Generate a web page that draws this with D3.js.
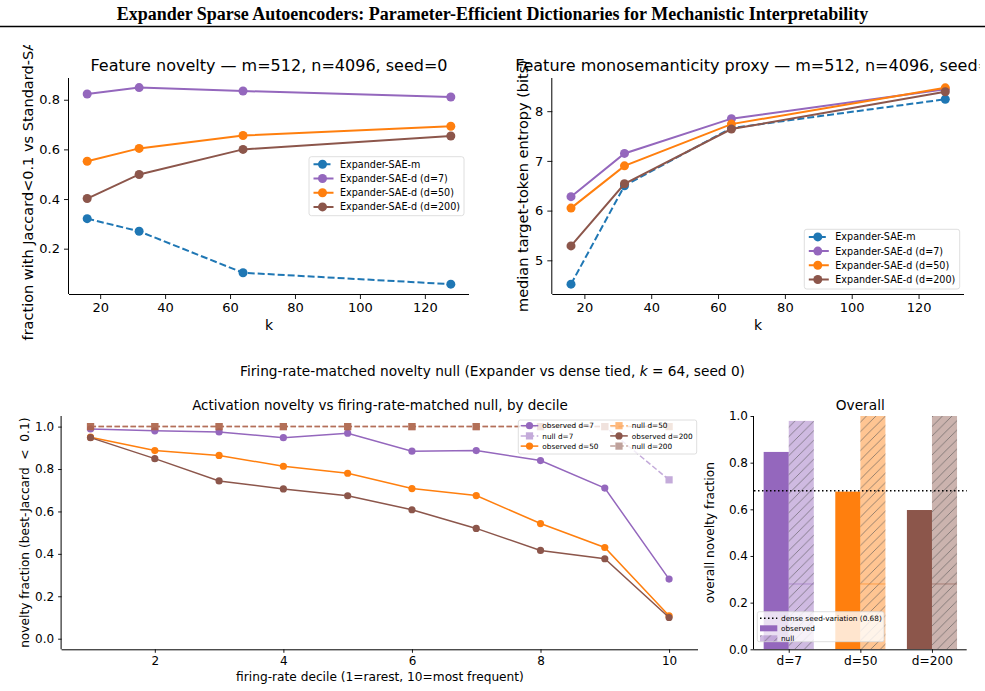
<!DOCTYPE html>
<html><head><meta charset="utf-8">
<script src="https://cdn.jsdelivr.net/npm/d3@7"></script>
<style>body{margin:0;background:#fff} svg{display:block}</style>
</head><body>
<svg id="chart"></svg>
<script>
// ---------------- DATA ----------------
const figTitle = "Expander Sparse Autoencoders: Parameter-Efficient Dictionaries for Mechanistic Interpretability";
const kValues = [16, 32, 64, 128];
const seriesNames = ["Expander-SAE-m", "Expander-SAE-d (d=7)", "Expander-SAE-d (d=50)", "Expander-SAE-d (d=200)"];
const noveltyM    = [0.321, 0.270, 0.103, 0.057];
const noveltyD7   = [0.823, 0.849, 0.835, 0.811];
const noveltyD50  = [0.552, 0.604, 0.656, 0.693];
const noveltyD200 = [0.402, 0.499, 0.600, 0.654];
const entropyM    = [4.52, 6.50, 7.66, 8.24];
const entropyD7   = [6.28, 7.15, 7.85, 8.44];
const entropyD50  = [6.05, 6.90, 7.74, 8.47];
const entropyD200 = [5.29, 6.54, 7.64, 8.39];
const kTicks = [20, 40, 60, 80, 100, 120];
const noveltyTicks = [0.2, 0.4, 0.6, 0.8];
const entropyTicks = [5, 6, 7, 8];

const deciles = [1, 2, 3, 4, 5, 6, 7, 8, 9, 10];
const obsD7   = [0.989, 0.980, 0.975, 0.948, 0.969, 0.884, 0.887, 0.840, 0.710, 0.281];
const obsD50  = [0.950, 0.887, 0.864, 0.813, 0.780, 0.708, 0.675, 0.543, 0.430, 0.108];
const obsD200 = [0.948, 0.849, 0.744, 0.706, 0.674, 0.608, 0.520, 0.416, 0.377, 0.100];
const nullD7   = [1.0, 1.0, 1.0, 1.0, 1.0, 1.0, 1.0, 1.0, 1.0, 0.749];
const nullD50  = [1.0, 1.0, 1.0, 1.0, 1.0, 1.0, 1.0, 1.0, 1.0, 1.0];
const nullD200 = [1.0, 1.0, 1.0, 1.0, 1.0, 1.0, 1.0, 1.0, 1.0, 1.0];
const decileTicks = [2, 4, 6, 8, 10];
const fracTicks = [0.0, 0.2, 0.4, 0.6, 0.8, 1.0];

const barCategories = ["d=7", "d=50", "d=200"];
const overallObserved = [0.846, 0.676, 0.597];
const overallNull = [0.979, 1.0, 1.0];
const nullInnerLine = [0.28, 0.28, 0.28];
const seedVariation = 0.68;

// ---------------- SETUP ----------------
const W = 985, H = 691;
const FONT = "DejaVu Sans";
const C = {blue: "#1f77b4", purple: "#9467bd", orange: "#ff7f0e", brown: "#8c564b"};
const svg = d3.select("#chart").attr("width", W).attr("height", H);
const defs = svg.append("defs");

// header
svg.append("text").attr("x", 492.5).attr("y", 19.5).attr("text-anchor", "middle")
  .attr("font-family", "Liberation Serif").attr("font-weight", "bold").attr("font-size", 18)
  .text(figTitle);
svg.append("line").attr("x1", 0).attr("x2", W).attr("y1", 26.5).attr("y2", 26.5)
  .attr("stroke", "#000").attr("stroke-width", 1.5);

function styleAxis(g, fs) {
  g.attr("font-family", FONT).attr("font-size", fs);
  g.selectAll("text").attr("fill", "#000");
  g.selectAll("line").attr("stroke", "#000").attr("stroke-width", 0.9);
  g.select(".domain").attr("stroke", "#000").attr("stroke-width", 1);
}
function drawAxes(g, x, y, xt, yt, fs, tl, xfmt, yfmt, pad) {
  const xa = g.append("g").attr("transform", `translate(0,${y.range()[0]})`)
    .call(d3.axisBottom(x).tickValues(xt).tickSizeOuter(0).tickSize(tl).tickPadding(pad[0]).tickFormat(xfmt));
  styleAxis(xa, fs);
  xa.select(".domain").attr("d", `M${x.range()[0]},0.5H${x.range()[1]}`);
  const ya = g.append("g").attr("transform", `translate(${x.range()[0]},0)`)
    .call(d3.axisLeft(y).tickValues(yt).tickSizeOuter(0).tickSize(tl).tickPadding(pad[1]).tickFormat(yfmt));
  styleAxis(ya, fs);
  ya.select(".domain").attr("d", `M-0.5,${y.range()[0]}V${y.range()[1]}`);
}
function rotLabel(g, x, y, txt, fs) {
  return g.append("text").attr("transform", `translate(${x},${y}) rotate(-90)`).attr("text-anchor", "middle")
    .attr("font-family", FONT).attr("font-size", fs).text(txt);
}
function label(g, x, y, txt, fs, anchor) {
  return g.append("text").attr("x", x).attr("y", y).attr("text-anchor", anchor || "middle")
    .attr("font-family", FONT).attr("font-size", fs).text(txt);
}

// ---------------- TOP PANELS ----------------
defs.append("clipPath").attr("id", "topclip").append("rect").attr("x", 0).attr("y", 45).attr("width", 979.5).attr("height", 300);
const topG = svg.append("g").attr("clip-path", "url(#topclip)");
const topColors = [C.blue, C.purple, C.orange, C.brown];

function topPanel(xr, yDomain, yTicks, data, titleTxt, ylab, ylabX, legendBox, yfmt) {
  const g = topG.append("g");
  const x = d3.scaleLinear().domain([10.4, 133.6]).range(xr);
  const y = d3.scaleLinear().domain(yDomain).range([294, 78]);
  drawAxes(g, x, y, kTicks, yTicks, 13, 5, d3.format("d"), yfmt, [3.5, 4]);
  data.forEach((vals, i) => {
    const pts = kValues.map((k, j) => [x(k), y(vals[j])]);
    g.append("path").attr("d", d3.line()(pts)).attr("fill", "none").attr("stroke", topColors[i])
      .attr("stroke-width", 2).attr("stroke-dasharray", i === 0 ? "7,3" : null);
    g.selectAll(null).data(pts).enter().append("circle").attr("cx", d => d[0]).attr("cy", d => d[1])
      .attr("r", 4.5).attr("fill", topColors[i]);
  });
  label(g, (xr[0] + xr[1]) / 2, 70.5, titleTxt, 16);
  label(g, (xr[0] + xr[1]) / 2, 330, "k", 14);
  rotLabel(g, ylabX, 186, ylab, 14.5);
  // legend
  const [lx0, ly0, lw, lh] = legendBox;
  g.append("rect").attr("x", lx0).attr("y", ly0).attr("width", lw).attr("height", lh).attr("rx", 2.5)
    .attr("fill", "#fff").attr("fill-opacity", 0.8).attr("stroke", "#d6d6d6").attr("stroke-width", 0.8);
  seriesNames.forEach((name, i) => {
    const ry = ly0 + 7.6 + i * 14.2;
    g.append("line").attr("x1", lx0 + 4.5).attr("x2", lx0 + 24.5).attr("y1", ry).attr("y2", ry)
      .attr("stroke", topColors[i]).attr("stroke-width", 2).attr("stroke-dasharray", i === 0 ? "7,3" : null);
    g.append("circle").attr("cx", lx0 + 13.5).attr("cy", ry).attr("r", 4.5).attr("fill", topColors[i]);
    label(g, lx0 + 31, ry + 3.4, name, 9.6, "start");
  });
}
topPanel([69, 469], [0.0174, 0.8876], noveltyTicks, [noveltyM, noveltyD7, noveltyD50, noveltyD200],
  "Feature novelty — m=512, n=4096, seed=0", "fraction with Jaccard<0.1 vs Standard-SAE", 33, [309, 156.7, 155, 59], d3.format(".1f"));
topPanel([552.3, 964], [4.3225, 8.6675], entropyTicks, [entropyM, entropyD7, entropyD50, entropyD200],
  "Feature monosemanticity proxy — m=512, n=4096, seed=0", "median target-token entropy (bits)", 527.5, [804.3, 229.3, 155.4, 59.7], d3.format("d"));

// ---------------- MID TITLE ----------------
const mt = svg.append("text").attr("x", 492.5).attr("y", 375.5).attr("text-anchor", "middle")
  .attr("font-family", FONT).attr("font-size", 13.7);
mt.append("tspan").text("Firing-rate-matched novelty null (Expander vs dense tied, ");
mt.append("tspan").attr("font-style", "italic").text("k");
mt.append("tspan").text(" = 64, seed 0)");

// ---------------- BOTTOM LEFT ----------------
{
  const g = svg.append("g");
  const x = d3.scaleLinear().domain([0.55, 10.45]).range([61.6, 698]);
  const y = d3.scaleLinear().domain([-0.05, 1.05]).range([649.3, 416]);
  drawAxes(g, x, y, decileTicks, fracTicks, 12, 3.5, d3.format("d"), d3.format(".1f"), [3.5, 4]);
  const series = [
    {v: obsD7, c: C.purple, obs: true, name: "observed d=7"},
    {v: nullD7, c: C.purple, obs: false, name: "null d=7"},
    {v: obsD50, c: C.orange, obs: true, name: "observed d=50"},
    {v: nullD50, c: C.orange, obs: false, name: "null d=50"},
    {v: obsD200, c: C.brown, obs: true, name: "observed d=200"},
    {v: nullD200, c: C.brown, obs: false, name: "null d=200"}
  ];
  series.forEach(s => {
    const pts = deciles.map((d, j) => [x(d), y(s.v[j])]);
    const sg = g.append("g").attr("opacity", s.obs ? 1 : 0.55);
    sg.append("path").attr("d", d3.line()(pts)).attr("fill", "none").attr("stroke", s.c)
      .attr("stroke-width", 1.5).attr("stroke-dasharray", s.obs ? null : "5.5,2.5");
    if (s.obs) {
      sg.selectAll(null).data(pts).enter().append("circle").attr("cx", d => d[0]).attr("cy", d => d[1]).attr("r", 3.6).attr("fill", s.c);
    } else {
      sg.selectAll(null).data(pts).enter().append("rect").attr("x", d => d[0] - 3.6).attr("y", d => d[1] - 3.6)
        .attr("width", 7.2).attr("height", 7.2).attr("fill", s.c);
    }
  });
  label(g, 380, 409.5, "Activation novelty vs firing-rate-matched null, by decile", 13.5);
  label(g, 380, 680.5, "firing-rate decile (1=rarest, 10=most frequent)", 12.2);
  const yl = g.append("text").attr("transform", "translate(29,532.7) rotate(-90)").attr("text-anchor", "middle")
    .attr("font-family", FONT).attr("font-size", 12.2).attr("xml:space", "preserve");
  yl.text("novelty fraction (best-Jaccard  <  0.1)");
  // legend (column-major, 2 columns)
  g.append("rect").attr("x", 518.3).attr("y", 420).attr("width", 178.4).attr("height", 34).attr("rx", 2)
    .attr("fill", "#fff").attr("fill-opacity", 0.8).attr("stroke", "#d6d6d6").attr("stroke-width", 0.8);
  series.forEach((s, i) => {
    const col = Math.floor(i / 3), row = i % 3;
    const hx = col === 0 ? 520.7 : 610.2;
    const ry = 425.7 + row * 10.2;
    const lg = g.append("g").attr("opacity", s.obs ? 1 : 0.55);
    lg.append("line").attr("x1", hx).attr("x2", hx + 17.6).attr("y1", ry).attr("y2", ry).attr("stroke", s.c)
      .attr("stroke-width", 1.5).attr("stroke-dasharray", s.obs ? null : "5.5,2.5");
    if (s.obs) lg.append("circle").attr("cx", hx + 8.8).attr("cy", ry).attr("r", 3.6).attr("fill", s.c);
    else lg.append("rect").attr("x", hx + 5.2).attr("y", ry - 3.6).attr("width", 7.2).attr("height", 7.2).attr("fill", s.c);
    label(g, hx + 21.6, ry + 2.6, s.name, 7.3, "start");
  });
}

// ---------------- BOTTOM RIGHT ----------------
{
  const g = svg.append("g");
  const x = d3.scaleLinear().domain([-0.485, 2.485]).range([754, 966.7]);
  const y = d3.scaleLinear().domain([0, 1]).range([649.3, 416]);
  defs.append("clipPath").attr("id", "barclip").append("rect").attr("x", 754).attr("y", 416).attr("width", 212.7).attr("height", 233.3);
  const pat = defs.append("pattern").attr("id", "hatch").attr("patternUnits", "userSpaceOnUse")
    .attr("width", 9.5).attr("height", 9.5);
  pat.append("path").attr("d", "M-1,10.5 L10.5,-1 M-3,3 L3,-3 M6.5,12.5 L12.5,6.5").attr("stroke", "#555")
    .attr("stroke-opacity", 0.75).attr("stroke-width", 0.8);
  const barColors = [C.purple, C.orange, C.brown];
  const w = 0.35;
  const bg = g.append("g").attr("clip-path", "url(#barclip)");
  barCategories.forEach((cat, i) => {
    bg.append("rect").attr("x", x(i - w)).attr("width", x(i) - x(i - w)).attr("y", y(overallObserved[i]))
      .attr("height", y(0) - y(overallObserved[i])).attr("fill", barColors[i]);
    bg.append("rect").attr("x", x(i)).attr("width", x(i + w) - x(i)).attr("y", y(overallNull[i]))
      .attr("height", y(0) - y(overallNull[i])).attr("fill", barColors[i]).attr("fill-opacity", 0.45);
    bg.append("rect").attr("x", x(i)).attr("width", x(i + w) - x(i)).attr("y", y(overallNull[i]))
      .attr("height", y(0) - y(overallNull[i])).attr("fill", "url(#hatch)");
    bg.append("line").attr("x1", x(i)).attr("x2", x(i + w)).attr("y1", y(nullInnerLine[i])).attr("y2", y(nullInnerLine[i]))
      .attr("stroke", barColors[i]).attr("stroke-opacity", 0.55).attr("stroke-width", 1);
  });
  g.append("line").attr("x1", 754).attr("x2", 966.7).attr("y1", y(seedVariation)).attr("y2", y(seedVariation))
    .attr("stroke", "#000").attr("stroke-width", 1.5).attr("stroke-dasharray", "1.5,2.5");
  const xa = g.append("g").attr("transform", `translate(0,649.3)`)
    .call(d3.axisBottom(x).tickValues([0, 1, 2]).tickFormat((d, i) => barCategories[i]).tickSizeOuter(0).tickSize(3.5).tickPadding(3.5));
  styleAxis(xa, 12.2);
  xa.select(".domain").attr("d", `M754,0.5H966.7`);
  const ya = g.append("g").attr("transform", `translate(754,0)`)
    .call(d3.axisLeft(y).tickValues(fracTicks).tickFormat(d3.format(".1f")).tickSizeOuter(0).tickSize(3.5).tickPadding(2.5));
  styleAxis(ya, 12);
  ya.select(".domain").attr("d", `M-0.5,649.3V416`);
  label(g, 860.3, 410, "Overall", 13.7);
  rotLabel(g, 714, 532.7, "overall novelty fraction", 12.2);
  // legend
  g.append("rect").attr("x", 757.3).attr("y", 611.7).attr("width", 126.7).attr("height", 30).attr("rx", 2)
    .attr("fill", "#fff").attr("fill-opacity", 0.8).attr("stroke", "#d6d6d6").attr("stroke-width", 0.8);
  g.append("line").attr("x1", 760).attr("x2", 777.3).attr("y1", 618.3).attr("y2", 618.3)
    .attr("stroke", "#000").attr("stroke-width", 1.5).attr("stroke-dasharray", "1.5,2.5");
  g.append("rect").attr("x", 760).attr("y", 625.3).attr("width", 17.3).attr("height", 6).attr("fill", C.purple);
  g.append("rect").attr("x", 760).attr("y", 635.3).attr("width", 17.3).attr("height", 6).attr("fill", C.purple).attr("fill-opacity", 0.45);
  g.append("rect").attr("x", 760).attr("y", 635.3).attr("width", 17.3).attr("height", 6).attr("fill", "url(#hatch)");
  label(g, 781, 620.8, "dense seed-variation (" + seedVariation.toFixed(2) + ")", 7.3, "start");
  label(g, 781, 630.8, "observed", 7.3, "start");
  label(g, 781, 640.8, "null", 7.3, "start");
}
</script>
</body></html>
